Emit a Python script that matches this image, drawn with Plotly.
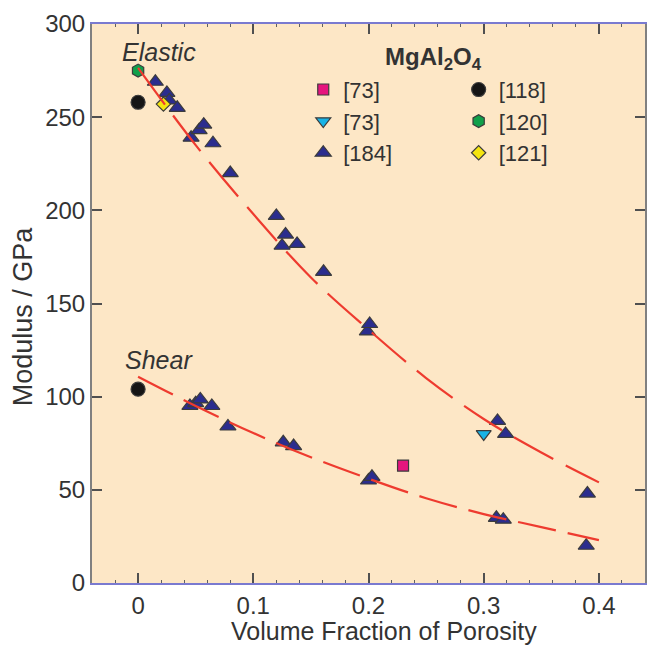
import plotly.graph_objects as go

# ---- data ----
# [184] triangles, elastic modulus
e184_x = [0.015, 0.025, 0.027, 0.034, 0.046, 0.053, 0.057, 0.065, 0.080, 0.120,
          0.125, 0.128, 0.138, 0.161, 0.199, 0.201, 0.312, 0.319, 0.390]
e184_y = [269, 263, 259, 255, 239, 243, 246, 236, 220, 197,
          181, 187, 182, 167, 135, 139, 87, 80, 48]
# [184] triangles, shear modulus
s184_x = [0.045, 0.050, 0.054, 0.064, 0.078, 0.126, 0.135, 0.200, 0.203, 0.311, 0.317, 0.389]
s184_y = [95, 96.5, 98.5, 95, 84, 75.5, 73.5, 55, 57, 35, 34, 20]
# [73] square and [73] inverted triangle
r73a_x = [0.230]
r73a_y = [63]
r73b_x = [0.300]
r73b_y = [80]
# [118] circles (elastic, shear)
r118_x = [0.0, 0.0]
r118_y = [258, 104]
# [120] hexagon
r120_x = [0.0]
r120_y = [275]
# [121] diamond
r121_x = [0.022]
r121_y = [257]
# dashed fit curves
fitE_x = [0.0, 0.05, 0.10, 0.15, 0.20, 0.25, 0.30, 0.35, 0.40]
fitE_y = [276.5, 235, 198, 164, 136, 110, 88, 70, 54]
fitS_x = [0.0, 0.05, 0.10, 0.15, 0.20, 0.25, 0.30, 0.35, 0.40]
fitS_y = [110.7, 95, 80.5, 67.5, 56, 45.5, 37, 30, 23]

xticks = [0, 0.1, 0.2, 0.3, 0.4]
xticklabels = ["0", "0.1", "0.2", "0.3", "0.4"]
yticks = [0, 50, 100, 150, 200, 250, 300]

FONT = "Liberation Sans, Arial, sans-serif"
TXT = "#333333"
OUTL = dict(color="#3c3c3c", width=1.2)

fig = go.Figure()

fig.add_trace(go.Scatter(x=r73a_x, y=r73a_y, mode="markers", name="[73]", legend="legend",
                         marker=dict(symbol="square", size=11, color="#e6157e", line=OUTL)))
fig.add_trace(go.Scatter(x=r73b_x, y=r73b_y, mode="markers", name="[73]", legend="legend",
                         marker=dict(symbol="triangle-down", size=13, color="#17b3e6", line=OUTL)))
fig.add_trace(go.Scatter(x=e184_x, y=e184_y, mode="markers", name="[184]", legend="legend",
                         marker=dict(symbol="triangle-up", size=14, color="#2b2d8e", line=OUTL)))
fig.add_trace(go.Scatter(x=s184_x, y=s184_y, mode="markers", name="[184]", legend="legend",
                         showlegend=False,
                         marker=dict(symbol="triangle-up", size=14, color="#2b2d8e", line=OUTL)))
fig.add_trace(go.Scatter(x=r118_x, y=r118_y, mode="markers", name="[118]", legend="legend2",
                         marker=dict(symbol="circle", size=14, color="#151515", line=OUTL)))
fig.add_trace(go.Scatter(x=r120_x, y=r120_y, mode="markers", name="[120]", legend="legend2",
                         marker=dict(symbol="hexagon", size=13, color="#10a04a", line=OUTL)))
fig.add_trace(go.Scatter(x=r121_x, y=r121_y, mode="markers", name="[121]", legend="legend2",
                         marker=dict(symbol="diamond", size=11, color="#f4e410", line=OUTL)))

fig.add_trace(go.Scatter(x=fitE_x, y=fitE_y, mode="lines", showlegend=False, line_shape="spline",
                         line=dict(color="#ee3b2f", width=2.2, dash="45px,14px")))
fig.add_trace(go.Scatter(x=fitS_x, y=fitS_y, mode="lines", showlegend=False, line_shape="spline",
                         line=dict(color="#ee3b2f", width=2.2, dash="39px,12px")))

leg_common = dict(font=dict(family=FONT, size=22, color=TXT), bgcolor="rgba(0,0,0,0)",
                  borderwidth=0, xanchor="left", yanchor="top", itemclick=False,
                  tracegroupgap=0)

PL, PT, PW, PH = 92, 24, 649 - 92 - 2, 646 - 24 - 63

fig.update_layout(
    width=649, height=646,
    margin=dict(l=92, r=2, t=24, b=63),
    paper_bgcolor="white",
    plot_bgcolor="#fde7c6",
    font=dict(family=FONT, size=24, color=TXT),
    legend=dict(x=0.382, y=0.92, **leg_common),
    legend2=dict(x=0.663, y=0.92, **leg_common),
    xaxis=dict(range=[-0.04, 0.44], tickvals=xticks, ticktext=xticklabels,
               showgrid=False, zeroline=False,
               showline=True, linecolor="#7a7ad0", linewidth=2, mirror="ticks",
               ticks="inside", ticklen=10, tickwidth=2, tickcolor="#505050",
               minor=dict(dtick=0.02, tick0=0, ticks="inside", ticklen=3, tickwidth=1, tickcolor="#606060"),
               tickfont=dict(size=24, color=TXT)),
    yaxis=dict(range=[0, 300], tickvals=yticks,
               showgrid=False, zeroline=False,
               showline=True, linecolor="#808080", linewidth=2, mirror="ticks",
               ticks="inside", ticklen=10, tickwidth=2, tickcolor="#505050",
               tickfont=dict(size=24, color=TXT)),
    annotations=[
        dict(x=(385 - PL) / PW, y=(PT + PH - 646) / PH, xref="paper", yref="paper",
             text="Volume Fraction of Porosity",
             showarrow=False, xanchor="center", yanchor="bottom", borderpad=0,
             font=dict(size=25, color=TXT, family=FONT)),
        dict(x=(23 - PL) / PW, y=(PT + PH - 316) / PH, xref="paper", yref="paper",
             text="Modulus / GPa", textangle=-90,
             showarrow=False, xanchor="center", yanchor="middle",
             font=dict(size=27, color=TXT, family=FONT)),
        dict(x=0.018, y=285, xref="x", yref="y", text="<i>Elastic</i>", showarrow=False,
             font=dict(size=25, color=TXT, family=FONT)),
        dict(x=0.018, y=119.7, xref="x", yref="y", text="<i>Shear</i>", showarrow=False,
             font=dict(size=25, color=TXT, family=FONT)),
        dict(x=0.256, y=281.5, xref="x", yref="y", text="<b>MgAl<sub>2</sub>O<sub>4</sub></b>",
             showarrow=False, font=dict(size=24, color=TXT, family=FONT)),
    ],
)

fig.write_html("out.html")
